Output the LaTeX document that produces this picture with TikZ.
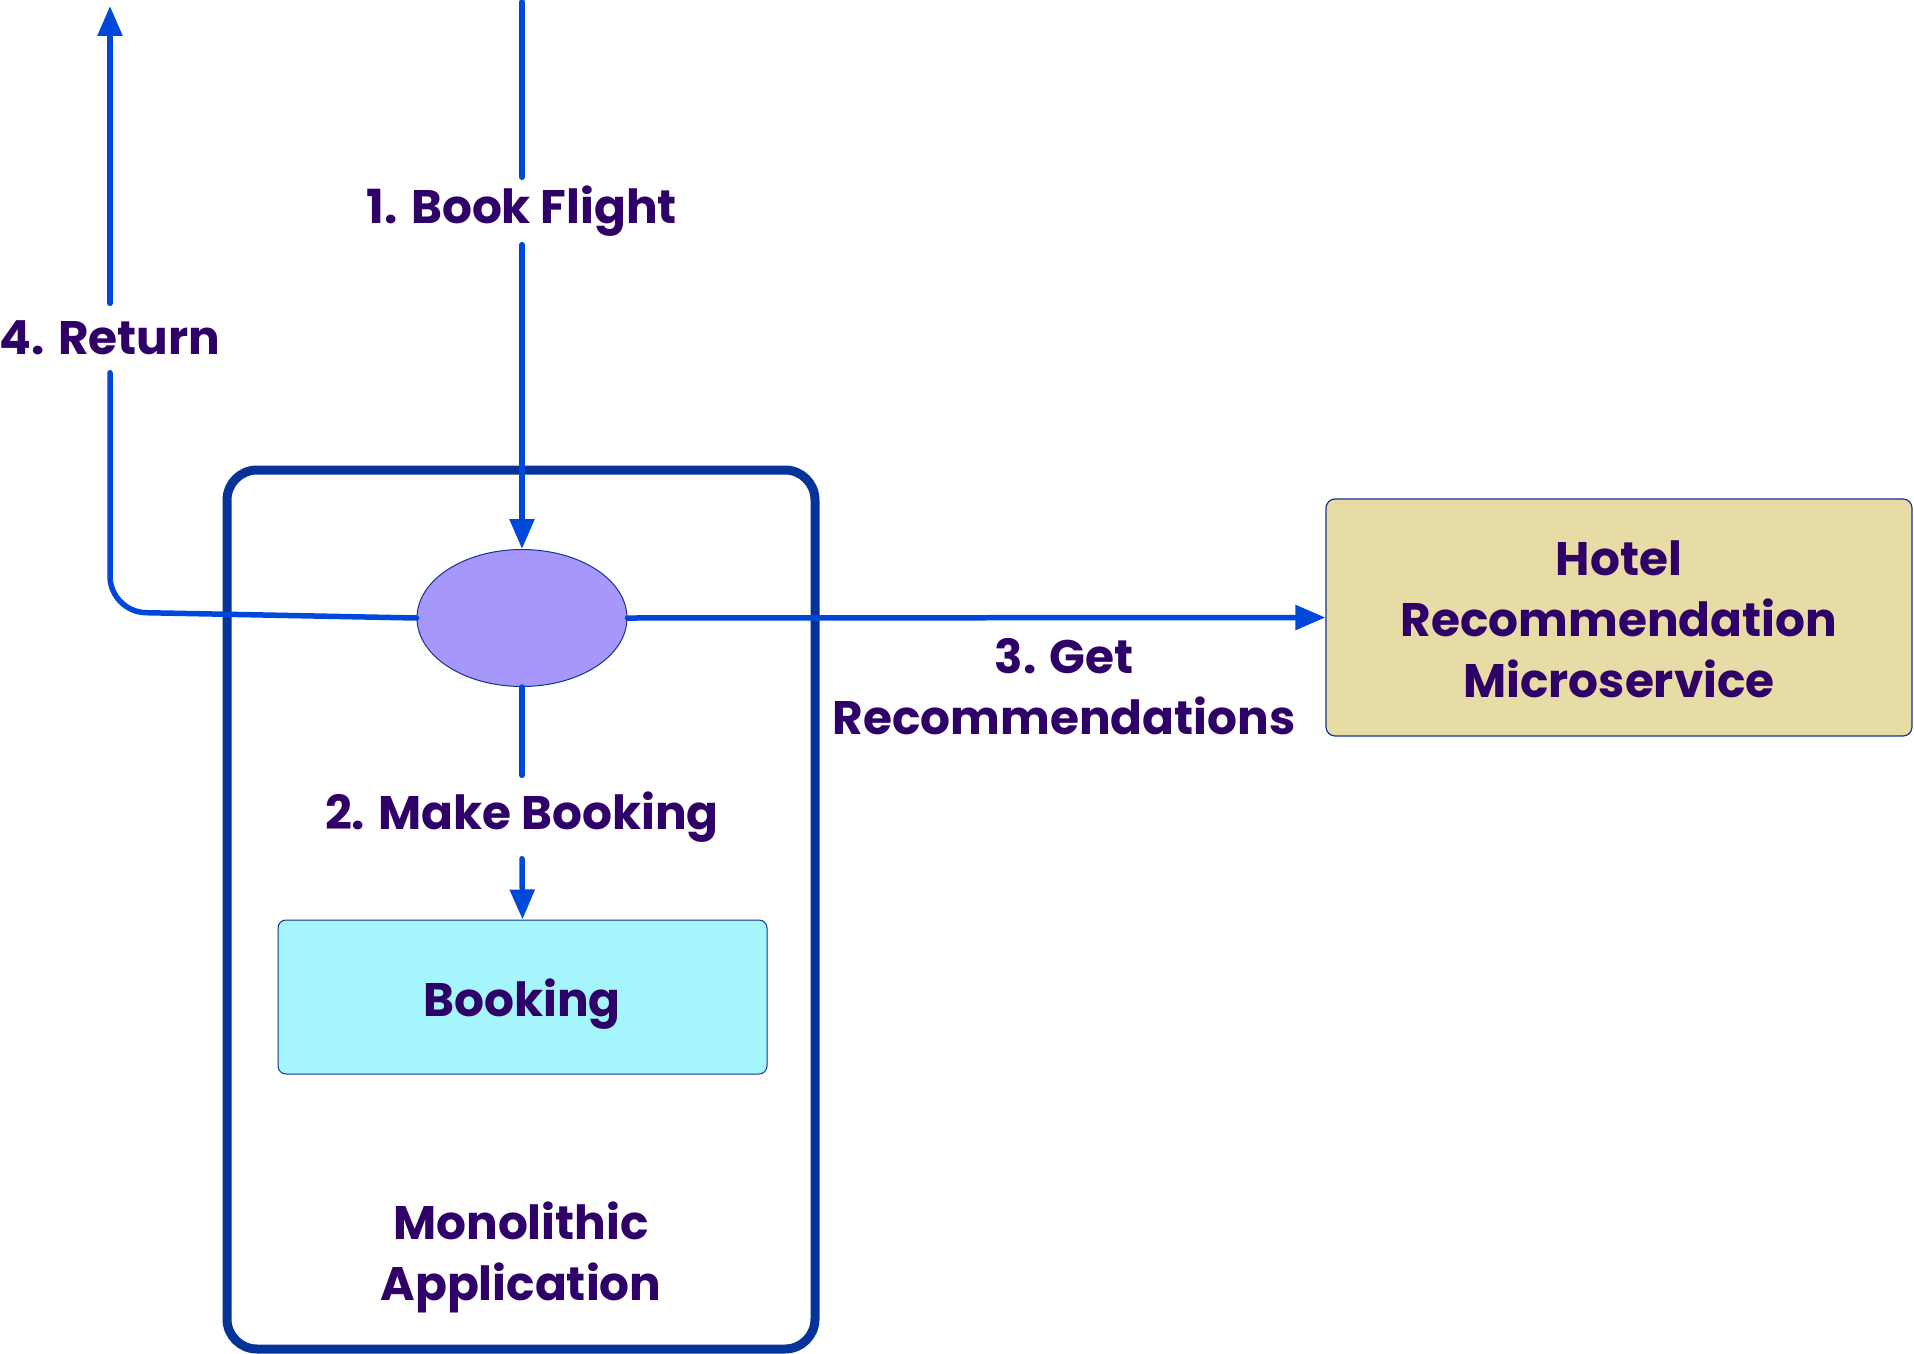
\documentclass[tikz,border=0pt]{standalone}
\usepackage{fontspec}
\setmainfont{Poppins}
\usetikzlibrary{arrows.meta,shapes.geometric}
\definecolor{flowblue}{RGB}{0,72,220}
\definecolor{monoblue}{RGB}{6,51,154}
\definecolor{txt}{RGB}{46,0,104}
\definecolor{ellfill}{RGB}{167,151,250}
\definecolor{bookfill}{RGB}{164,246,252}
\definecolor{hotelfill}{RGB}{232,220,166}
\definecolor{edge}{RGB}{20,50,150}
\tikzset{
  lbl/.style={font=\fontsize{47}{61}\selectfont\bfseries, text=txt, align=center, inner sep=8pt},
  flow/.style={draw=flowblue, line width=5.5pt, line cap=round},
  tip/.style={-{Triangle[length=30pt,width=24pt]}},
}
\begin{document}
\begin{tikzpicture}[x=1pt,y=-1pt]
\useasboundingbox (0,0) rectangle (1914,1354);
% monolith container
\node[draw=monoblue, line width=9pt, rounded corners=30pt, minimum width=588pt, minimum height=879pt, inner sep=0pt] (mono) at (521,909.5) {};
\node[lbl] (monolbl) at (521,1257) {Monolithic\\Application};
% booking box
\node[draw=edge, line width=1pt, fill=bookfill, rounded corners=8pt, minimum width=489pt, minimum height=154pt, inner sep=0pt] (booking) at (522.5,997) {};
\node[lbl] (bookinglbl) at (522,1004) {Booking};
% ellipse
\node[ellipse, draw=edge, line width=1pt, fill=ellfill, minimum width=210pt, minimum height=137pt, inner sep=0pt] (ell) at (522,618) {};
% hotel box
\node[draw=edge, line width=1.2pt, fill=hotelfill, rounded corners=9pt, minimum width=586pt, minimum height=237pt, inner sep=0pt] (hotel) at (1619,617.5) {};
\node[lbl] (hotellbl) at (1619,619) {Hotel\\Recommendation\\Microservice};
% labels
\node[lbl, inner sep=0pt, minimum height=67pt, yshift=-6pt] (l1) at (522,205) {1. Book Flight};
\node[lbl, inner sep=0pt, minimum height=83pt, yshift=-6pt] (l2) at (522,811) {2. Make Booking};
\node[lbl] (l3) at (1064,687) {3. Get\\Recommendations};
\node[lbl, inner sep=0pt, minimum height=69pt] (l4) at (110,338) {4. Return};
% coordinates
\coordinate (top1) at (522,2);
\coordinate (top4) at (110,6);
\coordinate (c4) at (110,612);
% connectors
\draw[flow] (top1) -- (l1.north);
\draw[flow, tip] (l1.south) -- (ell.north);
\draw[flow] (ell.south) -- (l2.north);
\draw[flow, tip] (l2.south) -- (booking.north);
\draw[flow, tip] (ell.east) -- (hotel.west);
\draw[flow, rounded corners=36pt] (ell.west) -- (c4) -- (l4.south);
\draw[flow, tip] (l4.north) -- (top4);
\end{tikzpicture}
\end{document}
